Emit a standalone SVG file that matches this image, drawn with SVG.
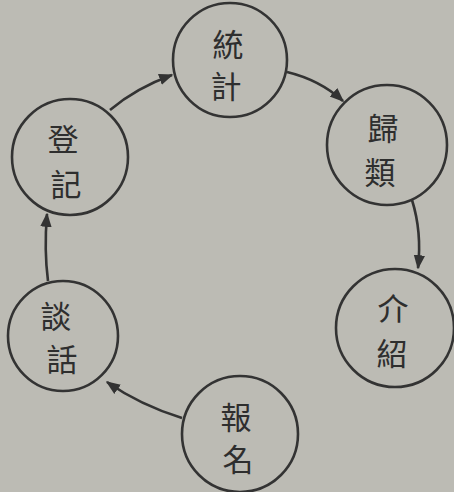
<svg xmlns="http://www.w3.org/2000/svg" width="454" height="492" viewBox="0 0 454 492">
<style>
.node circle{fill:none;stroke:#333;stroke-width:2.6}
.node text{font-family:"Noto Sans CJK TC","Noto Sans CJK SC",sans-serif;font-size:31px;fill:#2e2e2e;text-anchor:middle;dominant-baseline:central}
.edge{fill:none;stroke:#333;stroke-width:2.6}
</style>
<defs>
<marker id="ah" viewBox="0 0 10 10" refX="9" refY="5" markerWidth="5.5" markerHeight="5.5" orient="auto" markerUnits="strokeWidth">
<path d="M0,1 L10,5 L0,9 Z" fill="#333"/>
</marker>
</defs>
<rect width="454" height="492" fill="#bcbbb4"/>
<g id="n-tongji" class="node"><circle cx="230" cy="60" r="57"/><text x="228" y="42">統</text><text x="226" y="84">計</text></g>
<g id="n-guilei" class="node"><circle cx="387" cy="145" r="60"/><text x="383" y="126">歸</text><text x="380" y="170">類</text></g>
<g id="n-jieshao" class="node"><circle cx="395" cy="328" r="59"/><text x="393" y="306">介</text><text x="392" y="351">紹</text></g>
<g id="n-baoming" class="node"><circle cx="240" cy="434" r="58"/><text x="236" y="415">報</text><text x="238" y="457">名</text></g>
<g id="n-tanhua" class="node"><circle cx="63" cy="336" r="55"/><text x="56" y="314">談</text><text x="62" y="357">話</text></g>
<g id="n-dengji" class="node"><circle cx="70" cy="157" r="58"/><text x="63" y="137">登</text><text x="66" y="182">記</text></g>
<g id="connectors">
<path class="edge" d="M110,110 Q136,88 172,75" marker-end="url(#ah)"/>
<path class="edge" d="M287,72 Q320,80 343,101" marker-end="url(#ah)"/>
<path class="edge" d="M412,200 Q422,232 418,268" marker-end="url(#ah)"/>
<path class="edge" d="M182,418 Q140,405 107,382" marker-end="url(#ah)"/>
<path class="edge" d="M48,281 Q44,250 47,214" marker-end="url(#ah)"/>
</g>
</svg>
